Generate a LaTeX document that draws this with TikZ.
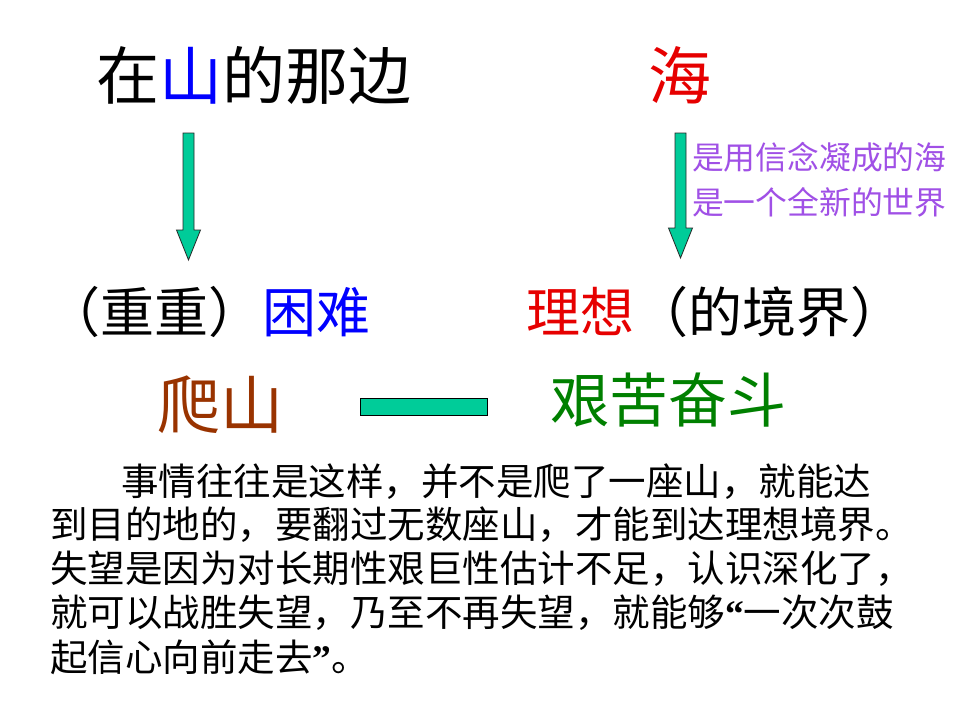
\documentclass[tikz,border=0pt]{standalone}
\usepackage{fontspec}
\setmainfont{Noto Sans CJK SC}
\newfontfamily\latinq{Liberation Serif}
\usetikzlibrary{calc}
\definecolor{arrgreen}{RGB}{0,204,153}
\definecolor{lilac}{RGB}{160,80,230}
\definecolor{brownish}{RGB}{153,51,0}
\definecolor{darkgreen}{RGB}{0,128,0}
\definecolor{redish}{RGB}{230,0,0}
\newcommand\fs[1]{\fontsize{#1}{#1}\selectfont}
\newcommand\myopenq{{\latinq\bfseries “}}
\newcommand\mycloseq{{\latinq\bfseries ”}}
\newcommand\blockarrow[2]{%
  \draw[arrbox] ($(#1)+(-5.5,0)$) -- ($(#2)+(-5.5,-30)$) -- ($(#2)+(-12,-30)$) -- (#2)
    -- ($(#2)+(12,-30)$) -- ($(#2)+(5.5,-30)$) -- ($(#1)+(5.5,0)$) -- cycle;}
\begin{document}
\begin{tikzpicture}[x=1pt,y=-1pt,
  every node/.style={inner sep=0pt, outer sep=0pt},
  arrbox/.style={fill=arrgreen, draw=black!85, line width=0.8pt, line join=miter},
  head/.style={anchor=west, font=\fs{63}},
  mid/.style={anchor=west, font=\fs{54}},
  note/.style={anchor=west, font=\fs{31.8}, text=lilac},
  para/.style={anchor=west, font=\fs{37.5}}]
\useasboundingbox[fill=white] (0,0) rectangle (960,720);

\node[head] (title) at (96,75) {在{\color{blue}山}的那边};
\node[head, text=redish] (sea) at (648,75) {海};

\coordinate (la) at (188.5,133);
\coordinate (lt) at (188.5,260);
\coordinate (ra) at (680.5,133);
\coordinate (rt) at (680.5,258);
\blockarrow{la}{lt}
\blockarrow{ra}{rt}

\node[note] (n1) at (692,157) {是用信念凝成的海};
\node[note] (n2) at (692,202) {是一个全新的世界};

\node[mid] (kunnan) at (46,312) {（重重）{\color{blue}困难}};
\node[mid] (lixiang) at (526,312) {{\color{redish}理想}（的境界）};

\node[head, text=brownish] (pashan) at (157,405) {爬山};
\node[anchor=west, text=darkgreen, font=\fs{59}] (fendou) at (550,400) {艰苦奋斗};
\node[draw=black, fill=arrgreen, line width=0.8pt, minimum width=127pt, minimum height=17pt] (bar) at (423.5,406.5) {};

\node[para] (p1) at (121,482) {事情往往是这样，并不是爬了一座山，就能达};
\node[para] (p2) at (50,525) {到目的地的，要翻过无数座山，才能到达理想境界。};
\node[para] (p3) at (50,569) {失望是因为对长期性艰巨性估计不足，认识深化了，};
\node[para] (p4) at (50,613) {就可以战胜失望，乃至不再失望，就能够\myopenq 一次次鼓};
\node[para] (p5) at (50,657) {起信心向前走去\mycloseq 。};
\end{tikzpicture}
\end{document}
